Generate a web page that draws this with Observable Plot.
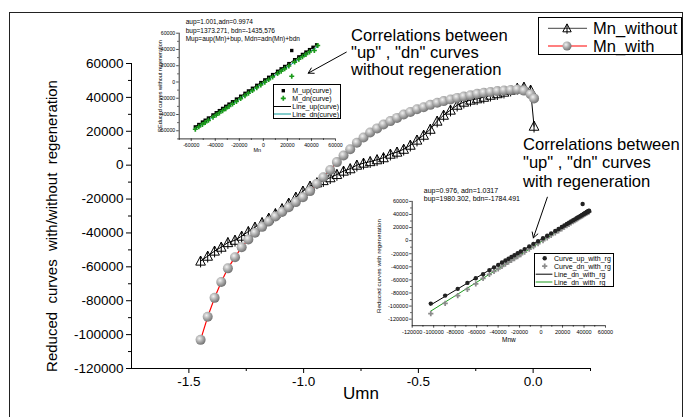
<!DOCTYPE html>
<html><head><meta charset="utf-8">
<script src="https://cdn.jsdelivr.net/npm/d3@7"></script>
<script src="https://cdn.jsdelivr.net/npm/@observablehq/plot@0.6"></script>
<style>
body{margin:0;background:#fff;}
#wrap{position:relative;width:686px;height:417px;overflow:hidden;background:#fff;font-family:"Liberation Sans",Arial,sans-serif;}
#border{position:absolute;left:9px;top:12px;width:674px;height:500px;border:1.3px solid #222;box-sizing:border-box;z-index:5;pointer-events:none;}
.note{position:absolute;font-size:16.6px;color:#000;white-space:nowrap;}
svg.ov{position:absolute;overflow:visible;}
</style></head><body><div id="wrap"></div>
<script>
// ---------- main chart data ----------
const umn = [-1.449,-1.418,-1.388,-1.359,-1.330,-1.299,-1.270,-1.241,-1.212,-1.181,-1.152,-1.123,-1.094,-1.065,-1.034,-1.003,-0.972,-0.942,-0.914,-0.884,-0.855,-0.826,-0.797,-0.768,-0.739,-0.710,-0.680,-0.652,-0.622,-0.593,-0.564,-0.535,-0.506,-0.477,-0.448,-0.418,-0.390,-0.360,-0.331,-0.302,-0.273,-0.244,-0.215,-0.186,-0.156,-0.127,-0.098,-0.069,-0.040,-0.011,0.004];
const mnWithout = [-56600,-53700,-50700,-48400,-45700,-44300,-41900,-39200,-36600,-33900,-31300,-28600,-25700,-22400,-18900,-15300,-12400,-10400,-9100,-7400,-5500,-3500,-2100,0,1200,2100,3200,4400,6500,7700,9400,11800,14800,17700,21200,26000,29500,32500,35400,37200,38400,39200,40100,41300,42200,43100,44300,45400,46000,44300,23000];
const mnWith = [-103100,-89500,-78300,-68900,-60900,-54300,-48400,-43800,-39900,-36400,-33200,-30300,-27600,-24800,-21800,-18900,-15300,-11000,-7100,-2800,1800,5700,9400,13200,16300,19300,21700,24000,26000,27900,29900,31400,33000,34200,35600,36800,37800,38800,39700,40500,41300,42100,42700,43200,43700,44100,44400,44700,44000,41900,39400];
const mainXDomain = [-1.75, 0.25];
const mainYDomain = [-120000, 60000];
const mainXTicks = [-1.5, -1.0, -0.5, 0.0];
const mainXMinor = [-1.25, -0.75, -0.25, 0.25];
const mainYTicks = [-120000,-100000,-80000,-60000,-40000,-20000,0,20000,40000,60000];
const mainYMinor = [-110000,-90000,-70000,-50000,-30000,-10000,10000,30000,50000];
const mainYTitle = "Reduced  curves  with/without  regeneration";
const mainXTitle = "Umn";
const seriesNames = ["Mn_without", "Mn_with"];
// annotation arrows (tail -> head) in main-chart units
const arrowX1 = [-0.814, 0.062];
const arrowY1 = [66700, -18900];
const arrowX2 = [-0.980, 0.001];
const arrowY2 = [54300, -42900];
const notes = [
  ["Correlations between", "\"up\" , \"dn\" curves", "without regeneration"],
  ["Correlations between", "\"up\" , \"dn\" curves", "with regeneration"]
];

// ---------- inset 1 (without regeneration) ----------
const in1Domain = [-70000, 60000];
const in1Ticks = [-60000,-40000,-20000,0,20000,40000,60000];
const in1Minor = [-70000,-50000,-30000,-10000,10000,30000,50000];
const in1UpX = [-56600,-53700,-50700,-48400,-45700,-41900,-39200,-36600,-33900,-31300,-28600,-25700,-22400,-18900,-15300,-12400,-9100,-5500,-2100,1200,4400,7700,11800,14800,17700,21200,23600,26000,29500,32500,35400,38400,41300,44300];
const in1UpY = [-55200,-52300,-49300,-47000,-44300,-40500,-37800,-35200,-32500,-29900,-27200,-24300,-21000,-17500,-13900,-11000,-7700,-4100,-700,2600,5800,9100,13200,16200,19100,22600,38700,27400,30900,33900,36800,39800,42700,45700];
const in1DnX = [-56600,-53700,-50700,-48400,-45700,-41900,-39200,-36600,-33900,-31300,-28600,-25700,-22400,-18900,-15300,-12400,-9100,-5500,-2100,1200,4400,7700,11800,14800,17700,21200,23600,26000,29500,32500,35400,38400,42400,45200];
const in1DnY = [-58100,-55200,-52200,-49900,-47200,-43400,-40700,-38100,-35400,-32800,-30100,-27200,-23900,-20400,-16800,-13900,-10600,-7000,-3600,-300,2900,6200,10300,13300,16200,19700,7100,24500,28000,31000,33900,36900,38700,44900];
const in1LineX = [-57000, 45000];
const in1LineUpY = [-55700, 46400];
const in1LineDnY = [-58300, 43400];
const in1Notes = ["aup=1.001,adn=0.9974", "bup=1373.271, bdn=-1435,576", "Mup=aup(Mn)+bup, Mdn=adn(Mn)+bdn"];
const in1Legend = ["M_up(curve)", "M_dn(curve)", "Line_up(curve)", "Line_dn(curve)"];

// ---------- inset 2 (with regeneration) ----------
const in2XDomain = [-120000, 60000];
const in2YDomain = [-130000, 60000];
const in2Ticks = [-120000,-100000,-80000,-60000,-40000,-20000,0,20000,40000,60000];
const in2Minor = [-110000,-90000,-70000,-50000,-30000,-10000,10000,30000,50000];
const in2X = [-102700,-89300,-77600,-68600,-60800,-54000,-48100,-43800,-39900,-36400,-33200,-30300,-27600,-24800,-21800,-18900,-15300,-11000,-7100,-2800,1800,5700,9400,13200,16300,19300,21700,24000,26000,27900,29900,31400,33000,34200,35600,36800,37800,38800,39700,40500,41300,42100,42700,43200,43700,44100,44400,44700];
const in2UpY = [-96200,-84000,-73700,-64600,-57500,-51400,-45000,-40800,-37000,-33500,-30400,-27600,-25000,-22200,-19300,-16500,-12900,-8800,-4900,-800,3700,7500,11200,14900,17900,20800,23200,25400,27400,29200,31200,32600,34200,35400,36700,37900,38900,39800,40700,41500,42300,43100,43700,44100,44600,45000,45300,45600];
const in2DnY = [-111500,-95700,-84000,-74300,-66100,-57500,-51400,-47000,-43000,-39300,-36000,-33000,-30300,-27400,-24300,-21300,-17600,-13100,-9100,-4700,100,4100,7900,11800,15000,18100,20600,23000,25000,27000,29100,30600,32300,33500,35000,36200,37200,38200,39200,40000,40800,41600,42300,42800,43300,43700,44000,44300];
const in2OutX = [38700];
const in2OutY = [56000];
const in2LineX = [-103000, 45000];
const in2LineUpY = [-98500, 45900];
const in2LineDnY = [-108000, 44600];
const in2Notes = ["aup=0.976, adn=1.0317", "bup=1980.302, bdn=-1784.491"];
const in2Legend = ["Curve_up_with_rg", "Curve_dn_with_rg", "Line_dn_with_rg", "Line_dn_with_rg"];

// ---------- rendering ----------
const FONT = '"Liberation Sans", Arial, sans-serif';
const SVGNS = "http://www.w3.org/2000/svg";
const wrap = document.getElementById("wrap");

// triangle with a vertical stroke through it (Origin style)
const triCross = {
  draw(ctx, size) {
    const r = Math.sqrt(size / Math.PI);
    const h = r * 1.1;
    ctx.moveTo(0, -h);
    ctx.lineTo(r * 1.05, h * 0.8);
    ctx.lineTo(-r * 1.05, h * 0.8);
    ctx.closePath();
    ctx.moveTo(0, -h);
    ctx.lineTo(0, h * 1.25);
  }
};

const main = Plot.plot({
  width: 686, height: 417,
  marginLeft: 131, marginRight: 96, marginTop: 63, marginBottom: 49,
  style: {background: "transparent", fontFamily: FONT, fontSize: "13.5px", color: "black"},
  x: {domain: mainXDomain},
  y: {domain: mainYDomain},
  marks: [
    Plot.axisY({ticks: mainYTicks, tickSize: 5, tickPadding: 3, tickFormat: d => String(d), label: null}),
    Plot.axisY({ticks: mainYMinor, tickSize: 3, tickFormat: () => "", label: null}),
    Plot.axisX({ticks: mainXTicks, tickSize: 5, tickPadding: 3, tickFormat: d => d.toFixed(1), label: null}),
    Plot.axisX({ticks: mainXMinor, tickSize: 3, tickFormat: () => "", label: null}),
    Plot.ruleX([mainXDomain[0]], {y1: mainYDomain[0], y2: mainYDomain[1], stroke: "black"}),
    Plot.ruleY([mainYDomain[0]], {x1: mainXDomain[0], x2: mainXDomain[1], stroke: "black"}),
    Plot.text([mainYTitle], {frameAnchor: "left", textAnchor: "middle", rotate: -90, dx: -79, dy: 10, fontSize: 15, fill: "black"}),
    Plot.text([mainXTitle], {frameAnchor: "bottom", dy: 30, fontSize: 17, fill: "black"}),
    Plot.line(umn, {x: umn, y: mnWithout, stroke: "black", strokeWidth: 1}),
    Plot.dot(umn, {x: umn, y: mnWithout, symbol: triCross, r: 4.6, stroke: "black", fill: "none", strokeWidth: 1}),
    Plot.line(umn, {x: umn, y: mnWith, stroke: "#ff0000", strokeWidth: 1.2}),
    Plot.dot(umn, {x: umn, y: mnWith, r: 5, fill: "url(#sph)", stroke: "none"}),
    Plot.arrow(arrowX1, {x1: arrowX1, y1: arrowY1, x2: arrowX2, y2: arrowY2, stroke: "black", strokeWidth: 1, headLength: 9})
  ]
});
// sphere gradient
const defs = document.createElementNS(SVGNS, "defs");
const grad = document.createElementNS(SVGNS, "radialGradient");
grad.setAttribute("id", "sph"); grad.setAttribute("cx", "0.38"); grad.setAttribute("cy", "0.35"); grad.setAttribute("r", "0.7");
[["0", "#f2f2f2"], ["0.45", "#b2b2b2"], ["1", "#6a6a6a"]].forEach(([o, c]) => {
  const s = document.createElementNS(SVGNS, "stop");
  s.setAttribute("offset", o); s.setAttribute("stop-color", c); grad.appendChild(s);
});
defs.appendChild(grad);
main.insertBefore(defs, main.firstChild);
main.style.position = "absolute"; main.style.left = "0px"; main.style.top = "0px";
wrap.appendChild(main);

function place(el, left, top) {
  el.style.position = "absolute"; el.style.left = left + "px"; el.style.top = top + "px";
  el.style.background = "transparent"; el.style.overflow = "visible";
  wrap.appendChild(el);
}

// inset 1
const in1 = Plot.plot({
  width: 210, height: 150, marginLeft: 38.7, marginRight: 15, marginTop: 22.7, marginBottom: 21.6,
  style: {background: "transparent", fontFamily: FONT, fontSize: "5.2px", color: "black", overflow: "visible"},
  x: {domain: in1Domain}, y: {domain: in1Domain},
  marks: [
    Plot.axisY({ticks: in1Ticks, tickSize: 2.5, tickPadding: 1.5, tickFormat: d => String(d), label: null, strokeWidth: 0.7}),
    Plot.axisY({ticks: in1Minor, tickSize: 1.5, tickFormat: () => "", label: null, strokeWidth: 0.7}),
    Plot.axisX({ticks: in1Ticks, tickSize: 2.5, tickPadding: 1.5, tickFormat: d => String(d), label: null, strokeWidth: 0.7}),
    Plot.axisX({ticks: in1Minor, tickSize: 1.5, tickFormat: () => "", label: null, strokeWidth: 0.7}),
    Plot.ruleX([in1Domain[0]], {y1: in1Domain[0], y2: in1Domain[1], stroke: "black", strokeWidth: 0.8}),
    Plot.ruleY([in1Domain[0]], {x1: in1Domain[0], x2: in1Domain[1], stroke: "black", strokeWidth: 0.8}),
    Plot.line(in1LineX, {x: in1LineX, y: in1LineUpY, stroke: "black", strokeWidth: 1}),
    Plot.line(in1LineX, {x: in1LineX, y: in1LineDnY, stroke: "#0a9a9a", strokeWidth: 1}),
    Plot.dot(in1UpX, {x: in1UpX, y: in1UpY, symbol: "square", r: 1.9, fill: "black", stroke: "none"}),
    Plot.dot(in1DnX, {x: in1DnX, y: in1DnY, symbol: "cross", r: 2.1, fill: "#1a9a1a", stroke: "none"}),
    Plot.text([in1Notes.join("\n")], {frameAnchor: "top-left", dx: 6.5, dy: -14.5, lineAnchor: "top", lineHeight: 1.25, fontSize: 6.5, textAnchor: "start", fill: "black"}),
    Plot.text(["Mn"], {frameAnchor: "bottom", dy: 13.5, fontSize: 5.5, fill: "black"}),
    Plot.text(["REduced curves without regeneration"], {frameAnchor: "left", textAnchor: "middle", rotate: -90, dx: -18.5, dy: 0, fontSize: 5.5, fill: "black"})
  ]
});
place(in1, 140, 10);

// inset 2
const in2 = Plot.plot({
  width: 250, height: 165, marginLeft: 41.7, marginRight: 15, marginTop: 15.9, marginBottom: 24.8,
  style: {background: "transparent", fontFamily: FONT, fontSize: "5.5px", color: "black", overflow: "visible"},
  x: {domain: in2XDomain}, y: {domain: in2YDomain},
  marks: [
    Plot.axisY({ticks: in2Ticks, tickSize: 2.5, tickPadding: 1.5, tickFormat: d => String(d), label: null, strokeWidth: 0.7}),
    Plot.axisY({ticks: in2Minor, tickSize: 1.5, tickFormat: () => "", label: null, strokeWidth: 0.7}),
    Plot.axisX({ticks: in2Ticks, tickSize: 2.5, tickPadding: 1.5, tickFormat: d => String(d), label: null, strokeWidth: 0.7}),
    Plot.axisX({ticks: in2Minor, tickSize: 1.5, tickFormat: () => "", label: null, strokeWidth: 0.7}),
    Plot.ruleX([in2XDomain[0]], {y1: in2YDomain[0], y2: in2YDomain[1], stroke: "black", strokeWidth: 0.8}),
    Plot.ruleY([in2YDomain[0]], {x1: in2XDomain[0], x2: in2XDomain[1], stroke: "black", strokeWidth: 0.8}),
    Plot.line(in2LineX, {x: in2LineX, y: in2LineUpY, stroke: "black", strokeWidth: 1}),
    Plot.line(in2LineX, {x: in2LineX, y: in2LineDnY, stroke: "#1f9a1f", strokeWidth: 1}),
    Plot.dot(in2X, {x: in2X, y: in2DnY, symbol: "cross", r: 2.2, fill: "#8c8c8c", stroke: "none"}),
    Plot.dot(in2X, {x: in2X, y: in2UpY, r: 2.2, fill: "#222", stroke: "none"}),
    Plot.dot(in2OutX, {x: in2OutX, y: in2OutY, r: 2.2, fill: "#222", stroke: "none"}),
    Plot.text([in2Notes.join("\n")], {frameAnchor: "top-left", dx: 11.6, dy: -13.7, lineAnchor: "top", lineHeight: 1.15, fontSize: 7, textAnchor: "start", fill: "black"}),
    Plot.text(["Mnw"], {frameAnchor: "bottom", dy: 16.5, fontSize: 6.5, fill: "black"}),
    Plot.text(["Reduced curves with regeneration"], {frameAnchor: "left", textAnchor: "middle", rotate: -90, dx: -33.5, dy: 2.5, fontSize: 6.2, fill: "black"})
  ]
});
place(in2, 370, 185);

// ---------- legends (SVG overlays) ----------
function mk(tag, attrs, parent) {
  const e = document.createElementNS(SVGNS, tag);
  for (const k in attrs) e.setAttribute(k, attrs[k]);
  if (parent) parent.appendChild(e);
  return e;
}
function legendBox(left, top, w, h) {
  const s = mk("svg", {width: w, height: h, class: "ov"});
  s.style.left = left + "px"; s.style.top = top + "px";
  mk("rect", {x: 0.5, y: 0.5, width: w - 1, height: h - 1, fill: "white", stroke: "black", "stroke-width": 1}, s);
  wrap.appendChild(s);
  return s;
}
function addText(s, x, y, str, size) {
  const t = mk("text", {x, y, "font-size": size, "font-family": FONT, fill: "black"}, s);
  t.textContent = str;
}
function symPath(sym, size) { const p = d3.path(); sym.draw(p, size); return p.toString(); }

// main legend
{
  const s = legendBox(538, 17, 144, 38);
  const rows = [11.3, 29];
  mk("line", {x1: 10, x2: 49, y1: rows[0], y2: rows[0], stroke: "#444", "stroke-width": 1}, s);
  mk("path", {d: symPath(triCross, Math.PI * 16), transform: `translate(29,${rows[0]})`, fill: "none", stroke: "black", "stroke-width": 1}, s);
  addText(s, 55, rows[0] + 6, seriesNames[0], 16.5);
  mk("line", {x1: 10, x2: 49, y1: rows[1], y2: rows[1], stroke: "#ff0000", "stroke-width": 1.2}, s);
  mk("circle", {cx: 29, cy: rows[1], r: 4.5, fill: "url(#sph)"}, s);
  addText(s, 55, rows[1] + 6, seriesNames[1], 16.5);
}
// inset 1 legend
{
  const s = legendBox(273, 84, 68, 35);
  const rows = [6.7, 14.3, 22.5, 30];
  mk("path", {d: symPath(d3.symbolSquare, Math.PI * 1.9 * 1.9), transform: `translate(10.3,${rows[0]})`, fill: "black"}, s);
  mk("path", {d: symPath(d3.symbolCross, Math.PI * 2.1 * 2.1), transform: `translate(10.3,${rows[1]})`, fill: "#1a9a1a"}, s);
  mk("line", {x1: 1, x2: 18, y1: rows[2], y2: rows[2], stroke: "black", "stroke-width": 1}, s);
  mk("line", {x1: 1, x2: 18, y1: rows[3], y2: rows[3], stroke: "#0a9a9a", "stroke-width": 1}, s);
  in1Legend.forEach((t, i) => addText(s, 19.3, rows[i] + 2.5, t, 7));
}
// inset 2 legend
{
  const s = legendBox(534, 252.5, 80, 34);
  const rows = [5.2, 13.2, 21.2, 29];
  mk("circle", {cx: 10.7, cy: rows[0], r: 2.2, fill: "#222"}, s);
  mk("path", {d: symPath(d3.symbolCross, Math.PI * 2.2 * 2.2), transform: `translate(10.7,${rows[1]})`, fill: "#8c8c8c"}, s);
  mk("line", {x1: 1.7, x2: 18.4, y1: rows[2], y2: rows[2], stroke: "black", "stroke-width": 1}, s);
  mk("line", {x1: 1.7, x2: 18.4, y1: rows[3], y2: rows[3], stroke: "#1f9a1f", "stroke-width": 1}, s);
  in2Legend.forEach((t, i) => addText(s, 20, rows[i] + 2.5, t, 7));
}

// ---------- annotation texts ----------
function note(lines, left, top, lh) {
  const d = document.createElement("div");
  d.className = "note";
  d.style.left = left + "px"; d.style.top = top + "px"; d.style.lineHeight = lh + "px";
  d.innerHTML = lines.map(l => l.replace(/&/g, "&amp;").replace(/</g, "&lt;")).join("<br>");
  wrap.appendChild(d);
}
note(notes[0], 351, 26.5, 17);
note(notes[1], 523, 135.5, 18.6);

// outer figure border on top
const border = document.createElement("div");
border.id = "border";
wrap.appendChild(border);
</script>
</body></html>
